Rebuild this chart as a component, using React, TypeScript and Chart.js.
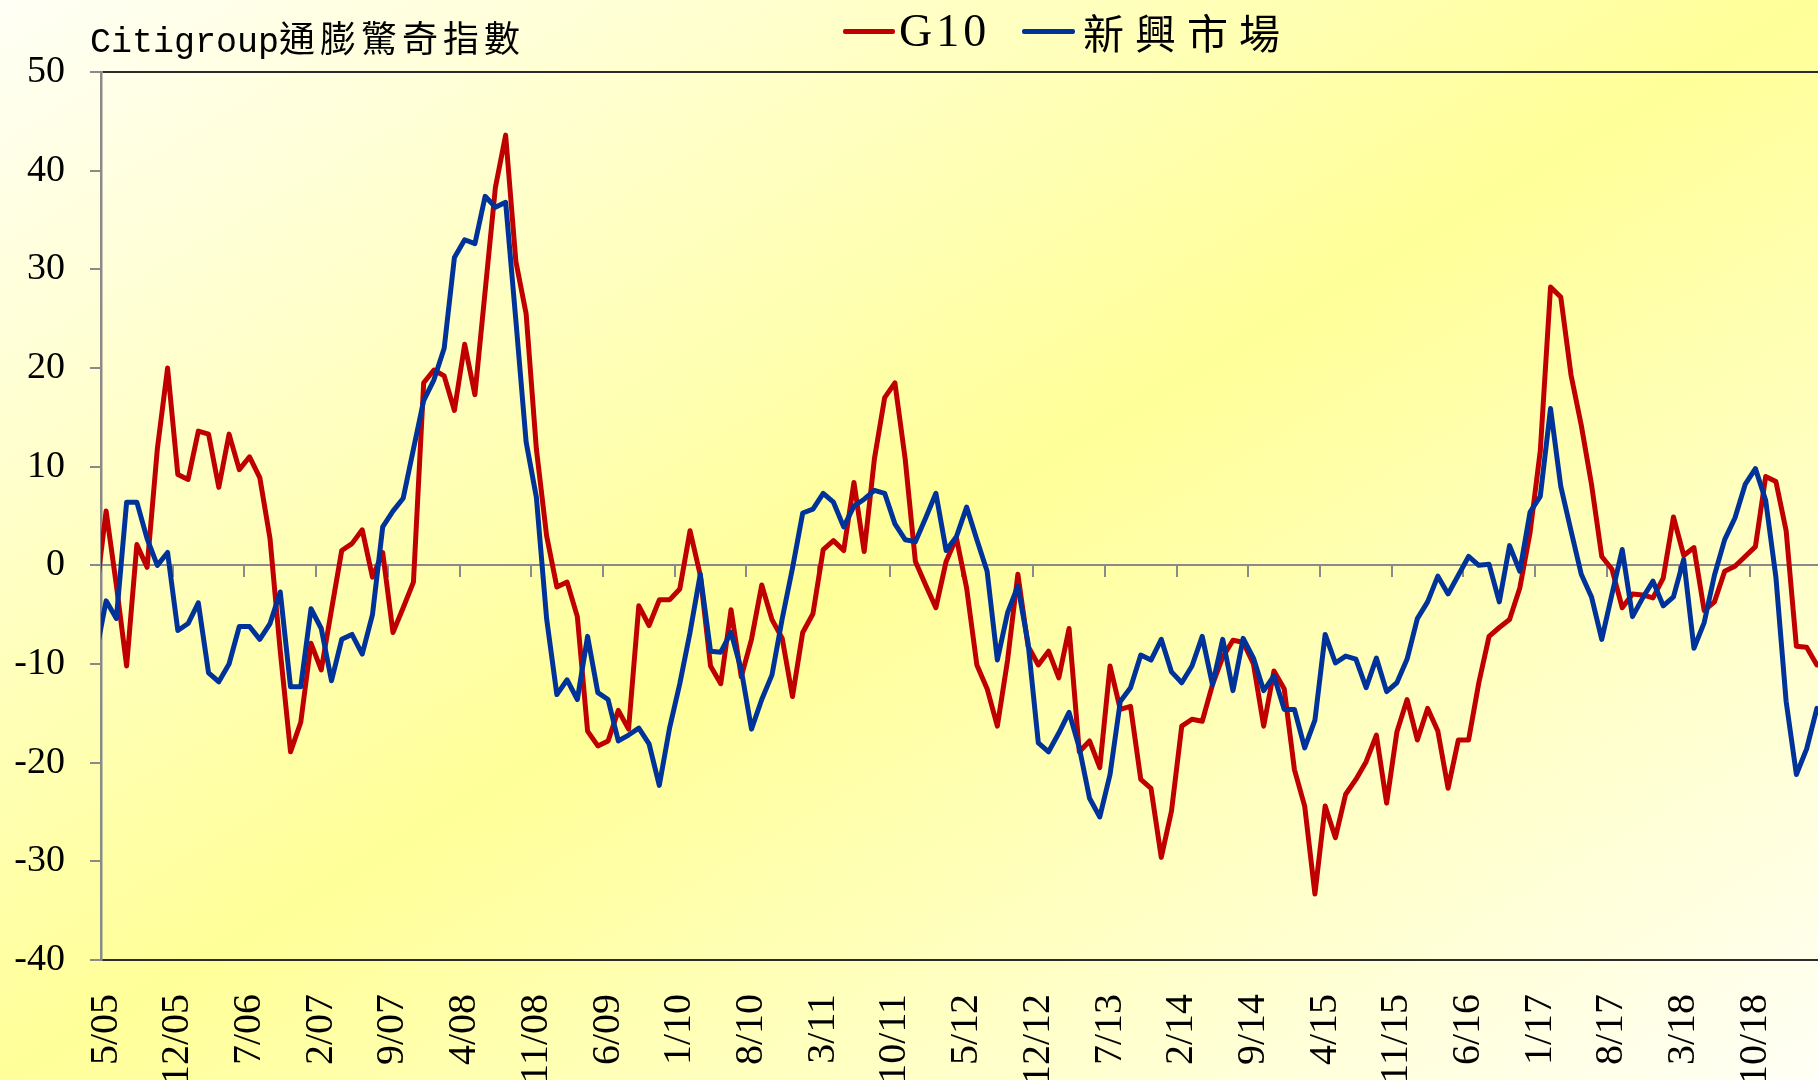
import React, { useEffect, useRef } from 'react';
import { Chart, registerables } from 'chart.js';

Chart.register(...registerables);

// Monthly categories: 4/05 (clipped, left of the axis) ... 4/19
const CATEGORIES: string[] = (() => {
  const out: string[] = [];
  let m = 4;
  let y = 5;
  for (let k = 0; k < 169; k++) {
    out.push(`${m}/${String(y).padStart(2, '0')}`);
    m += 1;
    if (m > 12) { m = 1; y += 1; }
  }
  return out;
})();

const TICK_LABELS: string[] = [
  '5/05', '12/05', '7/06', '2/07', '9/07', '4/08', '11/08', '6/09', '1/10', '8/10', '3/11', '10/11',
  '5/12', '12/12', '7/13', '2/14', '9/14', '4/15', '11/15', '6/16', '1/17', '8/17', '3/18', '10/18',
];

const Y_MIN = -40;
const Y_MAX = 50;
const Y_STEP = 10;

const G10: number[] = [
  -3.0,
  5.5, -2, -10.2, 2.1, -0.2, 11.8, 20.0, 9.2, 8.7, 13.6,
  13.3, 7.9, 13.3, 9.7, 11.0, 8.9, 2.7, -8.7, -18.9, -15.9,
  -7.9, -10.6, -4.5, 1.5, 2.2, 3.6, -1.2, 1.3, -6.8, -4.3,
  -1.7, 18.5, 19.8, 19.2, 15.7, 22.4, 17.3, 27.8, 38.3, 43.6,
  30.8, 25.5, 11.8, 3.0, -2.2, -1.7, -5.2, -16.8, -18.3, -17.8,
  -14.7, -16.6, -4.1, -6.1, -3.5, -3.5, -2.4, 3.5, -1.0, -10.2,
  -12.0, -4.5, -11.3, -7.5, -2.0, -5.5, -7.4, -13.3, -6.8, -4.9,
  1.6, 2.5, 1.5, 8.4, 1.4, 10.8, 17.0, 18.5, 10.8, 0.4,
  -2.0, -4.3, 0.4, 2.8, -2.3, -10.1, -12.5, -16.3, -9.6, -0.9,
  -8.2, -10.1, -8.7, -11.4, -6.4, -18.9, -17.8, -20.5, -10.2, -14.6,
  -14.3, -21.7, -22.6, -29.6, -24.9, -16.3, -15.6, -15.8, -12.1, -9.3,
  -7.6, -7.8, -10.0, -16.3, -10.7, -12.5, -20.7, -24.4, -33.3, -24.4,
  -27.6, -23.2, -21.7, -19.9, -17.2, -24.1, -16.9, -13.6, -17.7, -14.5,
  -16.8, -22.6, -17.7, -17.7, -11.9, -7.2, -6.3, -5.5, -2.3, 3.3,
  11.6, 28.2, 27.2, 19.3, 14.2, 8.2, 0.9, -0.4, -4.3, -2.9,
  -3.0, -3.3, -1.3, 4.9, 1.0, 1.8, -4.6, -3.7, -0.6, -0.1,
  0.9, 1.9, 9.0, 8.5, 3.5, -8.2, -8.3, -10.1,
];

const EMERGING: number[] = [
  -9.0,
  -3.6, -5.4, 6.4, 6.4, 2.7, 0.0, 1.3, -6.6, -5.9, -3.8,
  -10.9, -11.8, -10.0, -6.2, -6.2, -7.5, -5.9, -2.7, -12.3, -12.3,
  -4.4, -6.4, -11.7, -7.5, -7.0, -9.0, -5.0, 3.9, 5.5, 6.8,
  11.8, 16.7, 18.8, 22.0, 31.2, 33.0, 32.6, 37.4, 36.3, 36.8,
  24.8, 12.5, 6.9, -5.4, -13.1, -11.6, -13.6, -7.2, -12.9, -13.6,
  -17.8, -17.2, -16.5, -18.1, -22.3, -16.5, -12.0, -6.8, -0.9, -8.7,
  -8.8, -6.8, -10.6, -16.6, -13.6, -11.1, -5.4, -0.3, 5.3, 5.7,
  7.3, 6.4, 3.9, 6.0, 6.7, 7.6, 7.3, 4.2, 2.6, 2.4,
  4.8, 7.3, 1.5, 2.9, 5.9, 2.6, -0.6, -9.6, -4.8, -2.1,
  -7.9, -18.0, -18.9, -17.0, -14.9, -18.5, -23.6, -25.5, -21.2, -13.8,
  -12.4, -9.1, -9.6, -7.5, -10.8, -11.9, -10.2, -7.2, -12.1, -7.5,
  -12.7, -7.4, -9.4, -12.7, -11.2, -14.6, -14.6, -18.5, -15.7, -7.0,
  -9.9, -9.2, -9.5, -12.4, -9.4, -12.8, -11.9, -9.5, -5.4, -3.7,
  -1.1, -2.9, -1.0, 0.9, 0.0, 0.1, -3.7, 2.0, -0.6, 5.4,
  7.0, 15.9, 8.0, 3.5, -0.9, -3.2, -7.5, -2.9, 1.6, -5.2,
  -3.3, -1.6, -4.1, -3.2, 0.6, -8.4, -5.8, -1.0, 2.6, 4.8,
  8.2, 9.8, 6.6, -1.2, -13.8, -21.2, -18.6, -14.5,
];

const RED = '#c00000';
const BLUE = '#003399';
const AXIS_GRAY = '#8a8a8a';
const BORDER_DARK = '#2b2b2b';
const SERIF = "'Liberation Serif', 'Times New Roman', serif";
const CJK = "'Noto Sans CJK TC', 'Noto Sans CJK SC', sans-serif";

export default function App() {
  const canvasRef = useRef<HTMLCanvasElement | null>(null);

  useEffect(() => {
    const canvas = canvasRef.current;
    if (!canvas) return;
    const chart = new Chart(canvas, {
      type: 'line',
      data: {
        labels: CATEGORIES,
        datasets: [
          {
            label: 'G10',
            data: G10,
            borderColor: RED,
            backgroundColor: RED,
            borderWidth: 5,
            pointRadius: 0,
            tension: 0,
            borderJoinStyle: 'round',
            borderCapStyle: 'round',
            xAxisID: 'x',
            yAxisID: 'y',
            order: 1,
          },
          {
            label: '新興市場',
            data: EMERGING,
            borderColor: BLUE,
            backgroundColor: BLUE,
            borderWidth: 5,
            pointRadius: 0,
            tension: 0,
            borderJoinStyle: 'round',
            borderCapStyle: 'round',
            xAxisID: 'x',
            yAxisID: 'y',
            order: 0,
          },
        ],
      },
      options: {
        animation: false,
        responsive: false,
        maintainAspectRatio: false,
        devicePixelRatio: 1,
        layout: { padding: { top: 72, right: 2, left: 0, bottom: 0 } },
        plugins: {
          legend: { display: false },
          title: { display: false },
          tooltip: { enabled: false },
        },
        scales: {
          x: {
            type: 'category',
            position: { y: 0 } as any,
            offset: true,
            min: '5/05',
            grid: {
              offset: true,
              drawOnChartArea: false,
              drawTicks: true,
              tickLength: 11,
              lineWidth: 2,
              tickColor: (ctx: any) => (ctx.index % 7 === 0 ? AXIS_GRAY : 'rgba(0,0,0,0)'),
            },
            border: { display: true, color: AXIS_GRAY, width: 2 },
            ticks: { display: false, autoSkip: false },
            afterFit: (s: any) => { s.paddingLeft = 0; s.paddingRight = 0; },
          },
          x2: {
            type: 'category',
            axis: 'x',
            position: 'bottom',
            offset: true,
            min: '5/05',
            grid: { display: false, offset: true },
            border: { display: true, color: BORDER_DARK, width: 2 },
            ticks: {
              autoSkip: false,
              maxRotation: 90,
              minRotation: 90,
              padding: 26,
              color: '#000',
              font: { family: SERIF, size: 40 },
              callback: (v: any) => {
                const l = CATEGORIES[Number(v)];
                return TICK_LABELS.includes(l) ? l : null;
              },
            },
            afterFit: (s: any) => { s.height = 120; s.paddingLeft = 0; s.paddingRight = 0; },
          } as any,
          y: {
            type: 'linear',
            position: 'left',
            min: Y_MIN,
            max: Y_MAX,
            ticks: {
              stepSize: Y_STEP,
              color: '#000',
              padding: 25,
              font: { family: SERIF, size: 38 },
            },
            grid: {
              lineWidth: 2,
              tickLength: 11,
              color: (ctx: any) => (ctx.tick && ctx.tick.value === Y_MAX ? BORDER_DARK : 'rgba(0,0,0,0)'),
              tickColor: AXIS_GRAY,
            },
            border: { display: true, color: AXIS_GRAY, width: 2.5 },
            afterFit: (s: any) => { s.width = 101; },
          },
        },
      },
    });
    return () => chart.destroy();
  }, []);

  return (
    <div
      style={{
        position: 'fixed',
        left: 0,
        top: 0,
        width: 1818,
        height: 1080,
        overflow: 'hidden',
        background: 'linear-gradient(to bottom right, #fffff6 0%, #ffff99 50%, #fffff6 100%)',
      }}
    >
      <canvas
        ref={canvasRef}
        width={1824}
        height={1080}
        style={{ position: 'absolute', left: 0, top: 0, width: 1824, height: 1080 }}
      />
      <div
        style={{
          position: 'absolute',
          left: 90,
          top: 12,
          height: 48,
          lineHeight: '48px',
          whiteSpace: 'nowrap',
          color: '#000',
        }}
      >
        <span style={{ fontFamily: "'Liberation Mono', monospace", fontSize: 35 }}>Citigroup</span>
        <span style={{ fontFamily: CJK, fontSize: 36, letterSpacing: 5 }}>通膨驚奇指數</span>
      </div>
      <div style={{ position: 'absolute', left: 843, top: 29, width: 52, height: 4.5, background: RED, borderRadius: 2 }} />
      <div
        style={{
          position: 'absolute',
          left: 899,
          top: 6,
          lineHeight: '50px',
          fontFamily: SERIF,
          fontSize: 46,
          letterSpacing: 4,
          color: '#000',
          whiteSpace: 'nowrap',
        }}
      >
        G10
      </div>
      <div style={{ position: 'absolute', left: 1022, top: 29, width: 53, height: 4.5, background: BLUE, borderRadius: 2 }} />
      <div
        style={{
          position: 'absolute',
          left: 1083,
          top: 6,
          lineHeight: '50px',
          fontFamily: CJK,
          fontSize: 41,
          letterSpacing: 11,
          color: '#000',
          whiteSpace: 'nowrap',
        }}
      >
        新興市場
      </div>
    </div>
  );
}
